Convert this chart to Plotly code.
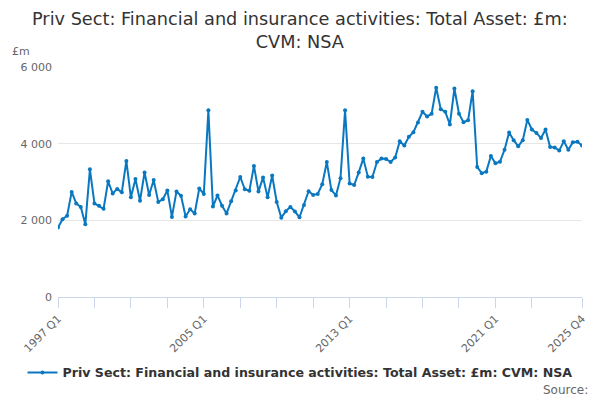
import plotly.graph_objects as go

years = list(range(1997, 2026))
quarters = [f"{y} Q{q}" for y in years for q in range(1, 5)]

values = [
    1810, 2030, 2120, 2740,   # 1997
    2440, 2350, 1900, 3330,   # 1998
    2440, 2380, 2300, 3020,   # 1999
    2700, 2820, 2730, 3550,   # 2000
    2600, 3080, 2510, 3250,   # 2001
    2660, 3050, 2480, 2550,   # 2002
    2780, 2090, 2750, 2640,   # 2003
    2100, 2290, 2180, 2830,   # 2004
    2690, 4870, 2360, 2650,   # 2005
    2380, 2180, 2500, 2780,   # 2006
    3130, 2810, 2770, 3420,   # 2007
    2750, 3120, 2600, 3170,   # 2008
    2480, 2070, 2240, 2350,   # 2009
    2230, 2080, 2400, 2760,   # 2010
    2660, 2690, 2940, 3520,   # 2011
    2790, 2650, 3100, 4870,   # 2012
    2960, 2920, 3250, 3610,   # 2013
    3140, 3130, 3520, 3610,   # 2014
    3600, 3520, 3640, 4060,   # 2015
    3950, 4180, 4300, 4550,   # 2016
    4830, 4710, 4780, 5460,   # 2017
    4900, 4830, 4500, 5440,   # 2018
    4780, 4560, 4610, 5370,   # 2019
    3390, 3230, 3270, 3680,   # 2020
    3490, 3530, 3840, 4290,   # 2021
    4090, 3930, 4090, 4620,   # 2022
    4370, 4280, 4150, 4370,   # 2023
    3910, 3900, 3820, 4060,   # 2024
    3840, 4040, 4050, 3950,   # 2025
]

tick_positions = ["1997 Q1", "1999 Q1", "2001 Q1", "2003 Q1", "2005 Q1", "2007 Q1",
                  "2009 Q1", "2011 Q1", "2013 Q1", "2015 Q1", "2017 Q1", "2019 Q1",
                  "2021 Q1", "2023 Q1", "2025 Q4"]
tick_labels = ["1997 Q1", "", "", "", "2005 Q1", "", "", "", "2013 Q1", "", "",
               "", "2021 Q1", "", "2025 Q4"]

title_text = "Priv Sect: Financial and insurance activities: Total Asset: £m:<br>CVM: NSA"
series_name = "Priv Sect: Financial and insurance activities: Total Asset: £m: CVM: NSA"
line_color = "#0a78c0"
font_family = "DejaVu Sans, Verdana, sans-serif"

fig = go.Figure()
fig.add_trace(go.Scatter(
    x=quarters, y=values, mode="lines+markers", name=series_name,
    line=dict(color=line_color, width=2),
    marker=dict(color=line_color, size=4),
))

fig.update_layout(
    width=600, height=400,
    paper_bgcolor="white", plot_bgcolor="white",
    font=dict(family=font_family, color="#666666", size=11),
    separators=". ",
    margin=dict(l=58, r=18, t=67, b=103, autoexpand=False),
    showlegend=True,
    legend=dict(
        orientation="h", xref="container", yref="container",
        x=0.5, xanchor="center", y=0.068, yanchor="middle",
        font=dict(size=12.6, color="#333333", family=font_family, weight="bold"),
        itemwidth=30,
    ),
    xaxis=dict(
        type="category", automargin=False,
        range=[0, len(quarters) - 1],
        tickmode="array", tickvals=tick_positions, ticktext=tick_labels,
        tickangle=-45, ticks="outside", ticklen=10, tickcolor="#ccd6eb",
        showline=True, linecolor="#ccd6eb", linewidth=1,
        showgrid=False, zeroline=False,
        tickfont=dict(size=11, color="#666666"),
    ),
    yaxis=dict(
        automargin=False,
        range=[0, 6000], tickvals=[0, 2000, 4000, 6000], tickformat=",d",
        showgrid=True, gridcolor="#e6e6e6", gridwidth=1,
        zeroline=False, showline=False, ticks="",
        tickfont=dict(size=11, color="#666666"),
        ticklabelstandoff=5,
    ),
    annotations=[
        dict(text=title_text, xref="paper", yref="paper", x=(300 - 58) / 524, y=(297 - 7) / 230,
             xanchor="center", yanchor="top", showarrow=False, align="center",
             font=dict(size=17.7, color="#333333", family=font_family)),
        dict(text="£m", xref="paper", yref="paper", x=-0.092, y=(297 - 52) / 230,
             xanchor="left", yanchor="middle", showarrow=False,
             font=dict(size=11, color="#666666")),
        dict(text="Source:", xref="paper", yref="paper", x=(590 - 58) / 524, y=(297 - 390) / 230,
             xanchor="right", yanchor="middle", showarrow=False,
             font=dict(size=12, color="#666666")),
    ],
)

fig.write_html(
    "out.html",
    config={"displayModeBar": False},
    post_script="document.body.style.margin='0';document.body.style.overflow='hidden';",
)
